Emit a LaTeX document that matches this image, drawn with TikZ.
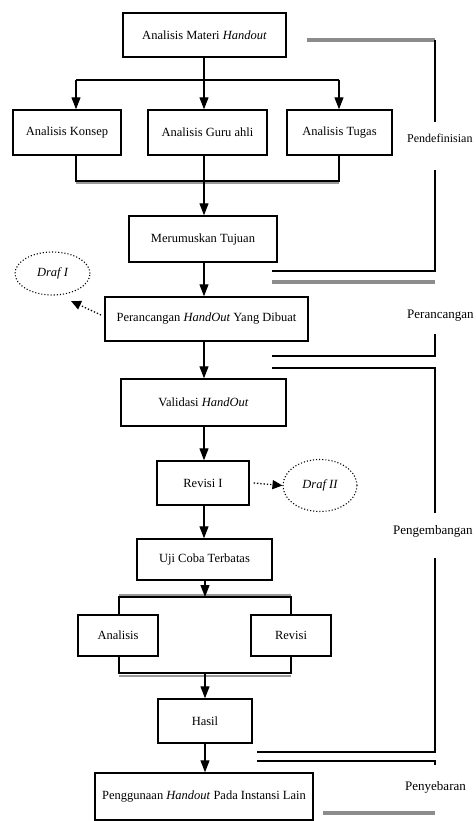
\documentclass[tikz,border=0pt]{standalone}
\usepackage{fontspec}
\setmainfont{Liberation Serif}
\usetikzlibrary{arrows.meta,shapes.geometric}
\tikzset{
  box/.style={draw, line width=1.4pt, inner sep=0pt, font=\fontsize{12.5}{14}\selectfont},
  arr/.style={line width=1.2pt, -{Triangle[width=9pt,length=12pt]}},
  ln/.style={line width=1.4pt},
  gln/.style={line width=4pt, black!45},
  sgln/.style={line width=2pt, black!40},
  lbl/.style={anchor=west, inner sep=0pt, font=\fontsize{13}{15}\selectfont},
  draf/.style={draw, ellipse, dotted, line width=1.1pt, inner sep=0pt, font=\fontsize{12.5}{14}\selectfont\itshape},
  darr/.style={dotted, line width=1.3pt, -{Triangle[width=9pt,length=10pt]}}
}
\begin{document}
\begin{tikzpicture}[x=1pt,y=-1pt]
\useasboundingbox (0,0) rectangle (476,821);
% boxes
\node[box, minimum width=163pt, minimum height=44pt] (A) at (204.5,35) {Analisis Materi \textit{Handout}};
\node[box, minimum width=108pt, minimum height=45pt] (K) at (67,132.5) {Analisis Konsep};
\node[box, minimum width=119pt, minimum height=45pt] (G) at (207.5,132.5) {Analisis Guru ahli};
\node[box, minimum width=105pt, minimum height=45pt] (T) at (339.5,132.5) {Analisis Tugas};
\node[box, minimum width=148pt, minimum height=46pt] (M) at (203,239) {Merumuskan Tujuan};
\node[box, minimum width=203pt, minimum height=44pt] (P) at (206.5,319) {Perancangan \textit{HandOut} Yang Dibuat};
\node[box, minimum width=165pt, minimum height=47pt] (V) at (203.5,402.5) {Validasi \textit{HandOut}};
\node[box, minimum width=92pt, minimum height=44pt] (R1) at (203,483) {Revisi I};
\node[box, minimum width=135pt, minimum height=41pt] (U) at (204.5,559.5) {Uji Coba Terbatas};
\node[box, minimum width=80pt, minimum height=41pt] (An) at (118,635.5) {Analisis};
\node[box, minimum width=80pt, minimum height=41pt] (Rv) at (291,635.5) {Revisi};
\node[box, minimum width=94pt, minimum height=44pt] (H) at (205,721) {Hasil};
\node[box, minimum width=218pt, minimum height=47pt] (PG) at (204,796.5) {Penggunaan \textit{Handout} Pada Instansi Lain};
% drafts
\node[draf, minimum width=75pt, minimum height=43pt] (D1) at (52.5,273.5) {Draf I};
\node[draf, minimum width=74pt, minimum height=52pt] (D2) at (320,485.5) {Draf II};
% top branch
\coordinate (b1) at (204,80);
\coordinate (bl) at (76,80);
\coordinate (br) at (339,80);
\draw[ln] (A.south -| b1) -- (b1);
\draw[ln] (bl) -- (br);
\draw[arr] (bl) -- (bl |- K.north);
\draw[arr] (b1) -- (b1 |- G.north);
\draw[arr] (br) -- (br |- T.north);
% join
\coordinate (jl) at (76,181);
\coordinate (jr) at (339,181);
\draw[sgln] (76,183.5) -- (339,183.5);
\draw[ln] (jl |- K.south) -- (jl) -- (jr) -- (jr |- T.south);
\draw[arr] (b1 |- G.south) -- (b1 |- M.north);
\draw[arr] (b1 |- M.south) -- (b1 |- P.north);
\draw[arr] (b1 |- P.south) -- (b1 |- V.north);
\draw[arr] (b1 |- V.south) -- (b1 |- R1.north);
\draw[arr] (b1 |- R1.south) -- (b1 |- U.north);
% lower branch
\coordinate (c1) at (205,597);
\coordinate (cl) at (119,597);
\coordinate (cr) at (291,597);
\draw[sgln] (119,595) -- (291,595);
\draw[ln] (cl |- An.north) -- (cl) -- (cr) -- (cr |- Rv.north);
\draw[arr] (c1 |- U.south) -- (c1);
\coordinate (dl) at (119,673);
\coordinate (dr) at (291,673);
\coordinate (d1) at (205,673);
\draw[sgln] (119,675.5) -- (291,675.5);
\draw[ln] (dl |- An.south) -- (dl) -- (dr) -- (dr |- Rv.south);
\draw[arr] (d1) -- (d1 |- H.north);
\draw[arr] (d1 |- H.south) -- (d1 |- PG.north);
% draft arrows
\coordinate (p1) at (101,315);
\coordinate (p2) at (71,301);
\draw[darr] (p1) -- (p2);
\draw[darr] (R1.east) ++(4,0) -- (D2.west);
% phase labels
\node[lbl, font=\fontsize{12}{14}\selectfont] (L1) at (407,138) {Pendefinisian};
\node[lbl] (L2) at (407,316) {Perancangan};
\node[lbl] (L3) at (393,531) {Pengembangan};
\node[lbl] (L4) at (405,787) {Penyebaran};
% brackets
\draw[gln] (307,40) -- (435,40);
\draw[ln] (435,40) -- (435,122);
\draw[ln] (435,170) -- (435,271) -- (272,271);
\draw[gln] (272,282) -- (435,282);
\draw[ln] (435,334) -- (435,356) -- (272,356);
\draw[ln] (272,368) -- (435,368) -- (435,513);
\draw[ln] (435,558) -- (435,752) -- (257,752);
\draw[ln] (257,761) -- (435,761) -- (435,765);
\draw[gln] (323,813) -- (435,813);
\end{tikzpicture}
\end{document}
